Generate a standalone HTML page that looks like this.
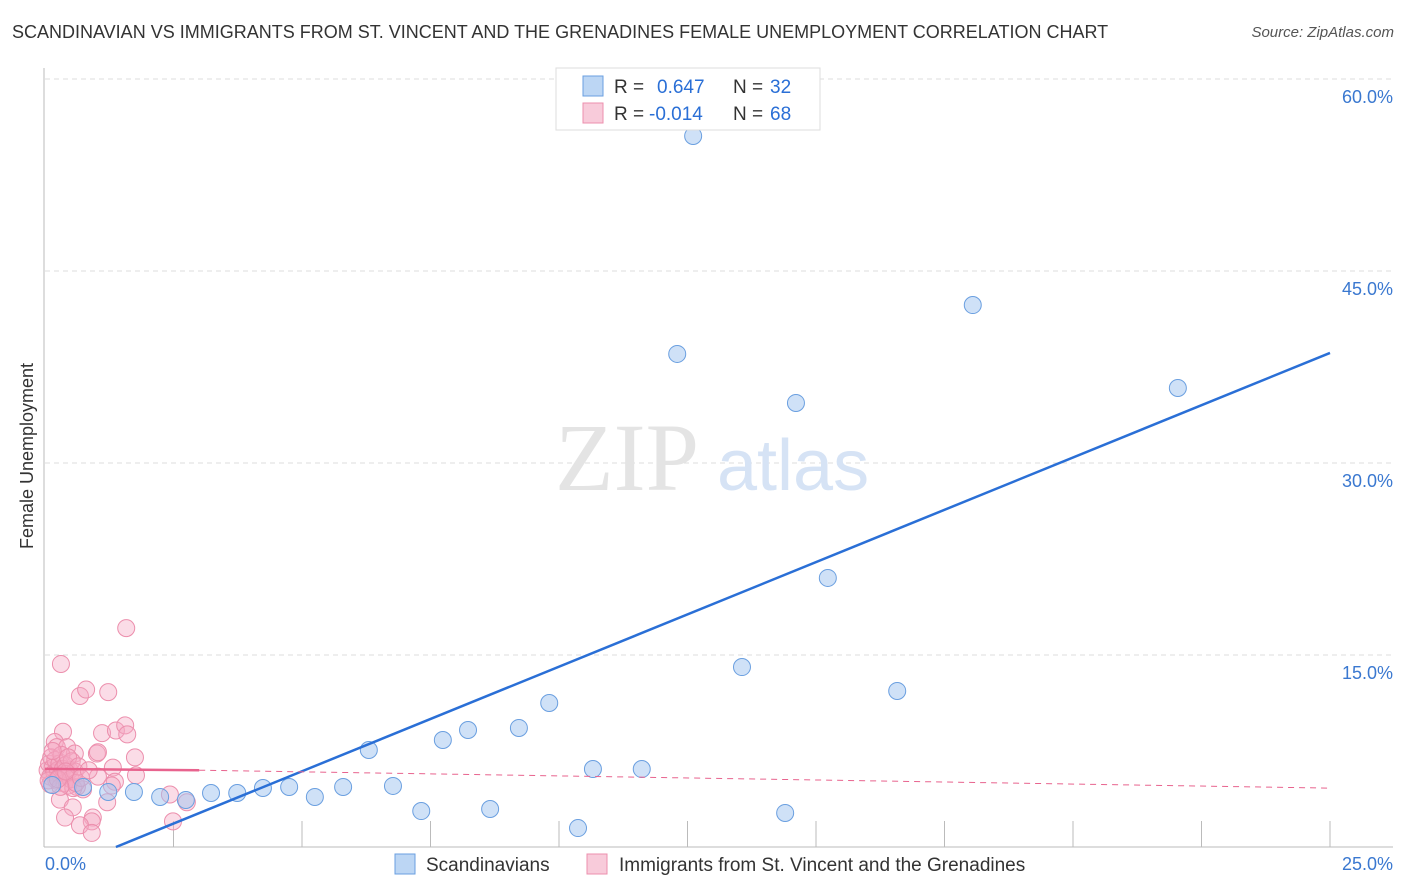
<!DOCTYPE html>
<html><head><meta charset="utf-8">
<style>
body{margin:0;background:#fff;font-family:"Liberation Sans",sans-serif;}
#wrap{position:relative;width:1406px;height:892px;overflow:hidden;}
.title{position:absolute;left:12px;top:22px;font-size:18px;color:#333;}
.source{position:absolute;right:12px;top:24px;font-size:15px;color:#555;font-style:italic;}
</style></head>
<body>
<div id="wrap">
<div class="title">SCANDINAVIAN VS IMMIGRANTS FROM ST. VINCENT AND THE GRENADINES FEMALE UNEMPLOYMENT CORRELATION CHART</div>
<div class="source">Source: ZipAtlas.com</div>
<svg id="chart" width="1406" height="892" style="position:absolute;left:0;top:0"></svg>
</div>
<script>
const xTicks=[0,25];
const yTicks=[15,30,45,60];
const blueX=[0.14,0.74,1.23,1.73,2.24,2.74,3.23,3.74,4.24,4.75,5.25,5.80,6.30,6.77,7.32,7.74,8.23,8.66,9.22,9.81,10.37,10.66,11.61,12.30,12.61,13.56,14.40,14.61,15.23,16.58,18.05,22.04];
const blueY=[4.84,4.69,4.30,4.30,3.91,3.67,4.22,4.22,4.61,4.69,3.91,4.69,7.58,4.77,2.81,8.36,9.14,2.97,9.30,11.25,1.48,6.09,6.09,38.52,55.55,14.06,2.66,34.69,21.02,12.19,42.34,35.86];
const pinkX=[1.58,0.31,0.68,0.80,1.23,0.35,1.11,1.38,1.56,1.60,1.01,1.03,1.75,0.19,0.23,0.43,0.58,1.32,1.77,1.03,1.36,1.30,1.21,0.29,0.54,0.39,0.93,0.91,0.68,0.91,2.43,2.49,2.76,0.74,0.62,
0.05,0.08,0.1,0.12,0.15,0.18,0.2,0.22,0.25,0.28,0.3,0.32,0.35,0.38,0.4,0.42,0.45,0.48,0.5,0.52,0.55,0.58,0.6,0.1,0.15,0.07,0.3,0.45,0.65,0.7,0.85,0.25,0.4];
const pinkY=[17.1,14.3,11.8,12.3,12.1,9.0,8.9,9.1,9.5,8.8,7.3,7.4,7.0,8.2,7.8,7.8,7.3,6.2,5.6,5.5,5.1,4.8,3.5,3.7,3.1,2.3,2.3,2.0,1.7,1.1,4.1,2.0,3.5,4.5,4.7,
6.0,6.5,5.5,7.0,6.2,5.8,6.8,5.2,6.0,6.5,5.6,7.2,6.1,5.0,6.4,5.7,4.8,6.0,5.3,6.7,4.6,5.9,5.0,4.9,7.5,5.2,4.7,7.0,6.3,5.4,6.0,5.3,5.9];
const blueTrend=[1.38,0,25,38.6];
const pinkTrend=[0,6.1,3.0,6.0,25,4.6];

const NS="http://www.w3.org/2000/svg";
const svg=document.getElementById('chart');
const X0=45,X1=1330,Y0=847,PPY=12.8;
const sx=v=>X0+(X1-X0)*v/25;
const sy=v=>Y0-v*PPY;
function mk(tag,attrs,parent){const e=document.createElementNS(NS,tag);for(const k in attrs)e.setAttribute(k,attrs[k]);(parent||svg).appendChild(e);return e;}

// gridlines
yTicks.forEach(t=>{
 const g=mk('line',{x1:X0,x2:1393,y1:sy(t),y2:sy(t),stroke:'#ddd','stroke-dasharray':'5,4'});
 
 
 const l=mk('text',{x:1393,y:sy(t)+24,'text-anchor':'end','font-size':18,fill:'#3a78d0','font-family':'Liberation Sans'});
 l.textContent=t.toFixed(1)+'%';
 
 
});
// axes
let a=mk('line',{x1:44,x2:44,y1:68,y2:Y0,stroke:'#bbb'});


a=mk('line',{x1:44,x2:1393,y1:Y0,y2:Y0,stroke:'#bbb'});


for(let i=1;i<=10;i++){
 const tk=mk('line',{x1:sx(i*2.5),x2:sx(i*2.5),y1:Y0-26,y2:Y0,stroke:'#bbb'});
 
 
}
xTicks.forEach((t,i)=>{
 const l=mk('text',{x:i==0?45:1393,y:870,'text-anchor':i==0?'start':'end','font-size':18,fill:'#3a78d0','font-family':'Liberation Sans'});
 l.textContent=t.toFixed(1)+'%';
 
 
});
// y title
let yt=mk('text',{x:0,y:0,transform:'translate(33,456) rotate(-90)','text-anchor':'middle','font-size':18,fill:'#333','font-family':'Liberation Sans'});
yt.textContent='Female Unemployment';


// watermark
let wm=mk('text',{x:555,y:490,'font-size':96,fill:'#e4e4e4','font-family':'Liberation Serif'});
wm.textContent='ZIP';


wm=mk('text',{x:717,y:490,'font-size':72,fill:'#d6e3f5','font-family':'Liberation Sans'});
wm.textContent='atlas';



// points
pinkX.forEach((x,i)=>{
 const c=mk('circle',{cx:sx(x),cy:sy(pinkY[i]),r:8.5,fill:'rgba(244,168,194,0.4)',stroke:'#ec8fad','stroke-width':1});
 
 
});
blueX.forEach((x,i)=>{
 const c=mk('circle',{cx:sx(x),cy:sy(blueY[i]),r:8.5,fill:'rgba(160,196,240,0.5)',stroke:'#6a9fe0','stroke-width':1});
 
 
});
// trends
let tl=mk('line',{x1:sx(blueTrend[0]),y1:sy(blueTrend[1]),x2:sx(blueTrend[2]),y2:sy(blueTrend[3]),stroke:'#2a6fd6','stroke-width':2.5});


tl=mk('line',{x1:sx(pinkTrend[0]),y1:sy(pinkTrend[1]),x2:sx(pinkTrend[2]),y2:sy(pinkTrend[3]),stroke:'#e8638e','stroke-width':2.5});


tl=mk('line',{x1:sx(pinkTrend[2]),y1:sy(pinkTrend[3]),x2:sx(pinkTrend[4]),y2:sy(pinkTrend[5]),stroke:'#e8638e','stroke-width':1,'stroke-dasharray':'6,5'});



// top legend
let lg=mk('rect',{x:556,y:68,width:264,height:62,fill:'#fff',stroke:'#ddd'});


const rows=[['rgba(160,196,240,0.7)','#6a9fe0','R = ','  0.647','32',86],['rgba(244,168,194,0.6)','#ec8fad','R = ','-0.014','68',113]];
rows.forEach(r=>{
 const s=mk('rect',{x:583,y:r[5]-10,width:20,height:20,fill:r[0],stroke:r[1]});
 
 
 const t=mk('text',{x:614,y:r[5]+7,'font-size':19,'font-family':'Liberation Sans',fill:'#333'});
 
 
 t.innerHTML='R = <tspan x="'+(r[3].trim()[0]=='-'?649:657)+'" fill="#2a6fd6">'+r[3].trim()+'</tspan><tspan x="733">N = </tspan><tspan x="770" fill="#2a6fd6">'+r[4]+'</tspan>';
});
// bottom legend
const bl=[[395,'rgba(160,196,240,0.7)','#6a9fe0','Scandinavians',426],[587,'rgba(244,168,194,0.6)','#ec8fad','Immigrants from St. Vincent and the Grenadines',619]];
bl.forEach(b=>{
 const s=mk('rect',{x:b[0],y:854,width:20,height:20,fill:b[1],stroke:b[2]});
 
 
 const t=mk('text',{x:b[4],y:871,'font-size':19,'font-family':'Liberation Sans',fill:'#333'});
 t.textContent=b[3];
 
 
});
</script>
</body></html>
